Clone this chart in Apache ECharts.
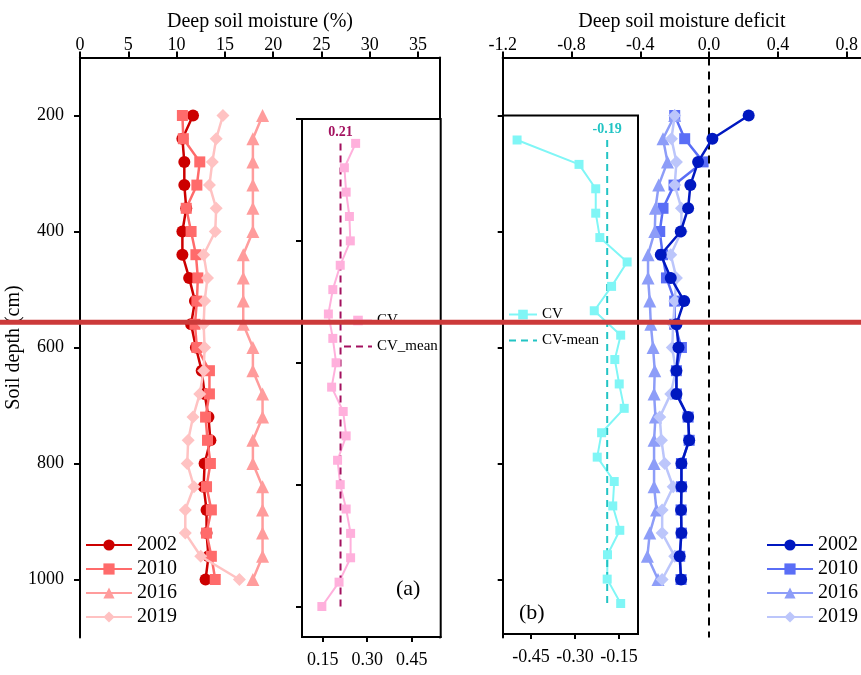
<!DOCTYPE html>
<html><head><meta charset="utf-8">
<script src="https://cdn.jsdelivr.net/npm/echarts@6/dist/echarts.min.js"></script>
<style>html,body{margin:0;padding:0;background:#fff}#c{width:861px;height:675px}</style>
</head><body><div id="c"></div>
<script>
// ---------- data ----------
const depths = [200,240,280,320,360,400,440,480,520,560,600,640,680,720,760,800,840,880,920,960,1000];
const cvDepths = [240,280,320,360,400,440,480,520,560,600,640,680,720,760,800,840,880,920,960,1000];
const depthTicks = [200,400,600,800,1000];
const moistTicks = [0,5,10,15,20,25,30,35];
const deficitTicks = [-1.2,-0.8,-0.4,0,0.4,0.8];
const cvTicksA = [0.15,0.30,0.45];
const cvTicksB = [-0.45,-0.30,-0.15];
const years = ['2002','2010','2016','2019'];

const moist2002 = [11.7,10.6,10.8,10.8,11.0,10.6,10.6,11.3,11.9,11.5,12.0,12.6,12.9,13.3,13.5,12.9,12.8,13.1,13.1,13.3,13.0];
const moist2010 = [10.6,10.7,12.4,12.1,11.0,11.5,12.0,12.2,12.1,11.9,12.1,13.4,13.4,13.0,13.2,13.5,13.1,13.6,13.1,13.6,14.0];
const moist2016 = [18.9,17.9,17.9,17.9,17.9,17.9,16.9,16.9,16.9,16.9,17.9,17.9,18.9,18.9,17.9,17.9,18.9,18.9,18.9,18.9,17.9];
const moist2019 = [14.8,14.1,13.7,13.4,14.1,14.0,12.8,13.2,12.9,12.8,12.9,12.8,12.4,11.7,11.2,11.1,11.8,10.9,10.9,12.5,16.5];

const def2002 = [0.230,0.019,-0.064,-0.109,-0.122,-0.165,-0.281,-0.223,-0.145,-0.190,-0.178,-0.190,-0.190,-0.122,-0.116,-0.161,-0.161,-0.163,-0.161,-0.171,-0.163];
const def2010 = [-0.200,-0.142,-0.035,-0.204,-0.268,-0.287,-0.270,-0.248,-0.200,-0.200,-0.161,-0.190,-0.190,-0.122,-0.116,-0.161,-0.161,-0.163,-0.161,-0.171,-0.163];
const def2016 = [-0.200,-0.268,-0.242,-0.293,-0.312,-0.316,-0.355,-0.355,-0.345,-0.339,-0.326,-0.316,-0.320,-0.312,-0.320,-0.320,-0.320,-0.306,-0.345,-0.359,-0.297];
const def2019 = [-0.200,-0.219,-0.190,-0.200,-0.161,-0.161,-0.223,-0.190,-0.200,-0.209,-0.214,-0.194,-0.223,-0.287,-0.277,-0.258,-0.209,-0.273,-0.273,-0.200,-0.273];

const cvA = [0.261,0.223,0.229,0.240,0.243,0.209,0.184,0.169,0.184,0.195,0.180,0.219,0.229,0.200,0.209,0.229,0.244,0.244,0.205,0.147];
const cvB = [-0.497,-0.286,-0.229,-0.229,-0.215,-0.122,-0.175,-0.234,-0.144,-0.164,-0.149,-0.132,-0.209,-0.224,-0.166,-0.171,-0.147,-0.189,-0.190,-0.144];
const cvMeanA = 0.21;
const cvMeanB = -0.19;
const redLineDepth = 556.5;

// ---------- styling ----------
const FF = '"Liberation Serif","Times New Roman",serif';
const redCols = ['#cc0000','#ff6b6b','#ff9c9c','#ffc2c2'];
const blueCols = ['#0018c0','#5a6ef6','#8d9df8','#bcc6fb'];
const syms = ['circle','rect','triangle','diamond'];
const symSizes = [12,11,13,13];

function pairs(vals, ds){ return vals.map((v,i)=>[v, ds[i]]); }
function yearSeries(name, vals, color, k, xi, yi, z){
  return {name, type:'line', xAxisIndex:xi, yAxisIndex:yi, data:pairs(vals, depths),
    symbol:syms[k], symbolSize:symSizes[k], z:z,
    lineStyle:{color, width:2.5}, itemStyle:{color}, emphasis:{disabled:true}};
}
function meanSeries(name, val, color, xi, yi){
  return {name, type:'line', xAxisIndex:xi, yAxisIndex:yi, z:6,
    data:[[val, cvDepths[0]],[val, cvDepths[cvDepths.length-1]]],
    symbol:'circle', symbolSize:0, showSymbol:false, itemStyle:{color, opacity:0},
    lineStyle:{color, width:2, type:[7,5]}, emphasis:{disabled:true},
    markPoint:{symbol:'circle', symbolSize:0, data:[{coord:[val, cvDepths[0]]}],
      label:{show:true, position:'top', distance:4, formatter:val.toFixed(2), fontFamily:FF, fontSize:14, fontWeight:'bold', color}}};
}
const axLine = {show:true, onZero:false, lineStyle:{color:'#000', width:2}};
const tickStyle = {color:'#000', width:2};
const lbl = {fontFamily:FF, fontSize:18, color:'#000'};

const chart = echarts.init(document.getElementById('c'), null, {renderer:'canvas'});
const strip = n => n.replace(' (b)','');

const option = {
  animation:false,
  backgroundColor:'#fff',
  grid:[
    {left:80, top:57.5, width:360, height:580},
    {left:302, top:119, width:138.7, height:518, show:true, borderColor:'#000', borderWidth:2, backgroundColor:'#fff', z:3},
    {left:502.7, top:57.5, width:358.3, height:580},
    {left:503, top:115.6, width:135, height:518.4, show:true, borderColor:'#000', borderWidth:2, backgroundColor:'#fff', z:3}
  ],
  xAxis:[
    {gridIndex:0, type:'value', position:'top', min:0, max:37.27,
      name:'Deep soil moisture (%)', nameLocation:'middle', nameGap:26,
      nameTextStyle:{fontFamily:FF, fontSize:20, color:'#000'},
      axisLine:axLine, axisTick:{show:true, inside:false, length:6, lineStyle:tickStyle, customValues:moistTicks},
      axisLabel:Object.assign({margin:3, customValues:moistTicks}, lbl), splitLine:{show:false}},
    {gridIndex:1, type:'value', position:'bottom', min:0.08, max:0.548,
      axisLine:axLine, axisTick:{show:true, inside:false, length:5, lineStyle:tickStyle, customValues:cvTicksA},
      axisLabel:Object.assign({margin:14, customValues:cvTicksA, formatter:v=>v.toFixed(2)}, lbl), splitLine:{show:false}},
    {gridIndex:2, type:'value', position:'top', min:-1.2, max:0.883,
      name:'Deep soil moisture deficit', nameLocation:'middle', nameGap:26,
      nameTextStyle:{fontFamily:FF, fontSize:20, color:'#000'},
      axisLine:axLine, axisTick:{show:true, inside:false, length:6, lineStyle:tickStyle, customValues:deficitTicks},
      axisLabel:Object.assign({margin:3, customValues:deficitTicks, formatter:v=>v.toFixed(1)}, lbl), splitLine:{show:false}},
    {gridIndex:3, type:'value', position:'bottom', min:-0.545, max:-0.085,
      axisLine:axLine, axisTick:{show:true, inside:false, length:5, lineStyle:tickStyle, customValues:cvTicksB},
      axisLabel:Object.assign({margin:14, customValues:cvTicksB, formatter:v=>v.toFixed(2)}, lbl), splitLine:{show:false}}
  ],
  yAxis:[
    {gridIndex:0, type:'value', inverse:true, min:100, max:1100, position:'left',
      name:'Soil depth (cm)', nameLocation:'middle', nameGap:49,
      nameTextStyle:{fontFamily:FF, fontSize:20, color:'#000'},
      axisLine:axLine, axisTick:{show:true, inside:false, length:6, lineStyle:tickStyle, customValues:depthTicks},
      axisLabel:Object.assign({margin:16, customValues:depthTicks, formatter:v=>String(v)}, lbl), splitLine:{show:false}},
    {gridIndex:0, type:'value', inverse:true, min:100, max:1100, position:'right',
      axisLine:axLine, axisTick:{show:false}, axisLabel:{show:false}, splitLine:{show:false}},
    {gridIndex:1, type:'value', inverse:true, min:200, max:1050, position:'left',
      axisLine:axLine, axisTick:{show:true, inside:false, length:6, lineStyle:tickStyle, customValues:depthTicks},
      axisLabel:{show:false}, splitLine:{show:false}},
    {gridIndex:2, type:'value', inverse:true, min:100, max:1100, position:'left',
      axisLine:axLine, axisTick:{show:true, inside:false, length:5, lineStyle:tickStyle, customValues:depthTicks},
      axisLabel:{show:false}, splitLine:{show:false}},
    {gridIndex:3, type:'value', inverse:true, min:200, max:1050, position:'left',
      axisLine:axLine, axisTick:{show:false}, axisLabel:{show:false}, splitLine:{show:false}}
  ],
  legend:[
    {left:80, top:530, padding:5, orient:'vertical', itemWidth:46, itemHeight:14, itemGap:4, selectedMode:false,
      textStyle:{fontFamily:FF, fontSize:20, color:'#000'}, data:years},
    {left:761, top:530, padding:5, orient:'vertical', itemWidth:46, itemHeight:14, itemGap:4, selectedMode:false,
      formatter:strip, textStyle:{fontFamily:FF, fontSize:20, color:'#000'}, data:years.map(y=>y+' (b)')},
    {left:338, top:308, orient:'vertical', itemWidth:28, itemHeight:12, itemGap:11, selectedMode:false,
      textStyle:{fontFamily:FF, fontSize:15, color:'#000'}, data:['CV','CV_mean']},
    {left:503, top:302, orient:'vertical', itemWidth:28, itemHeight:12, itemGap:11, selectedMode:false,
      formatter:strip, textStyle:{fontFamily:FF, fontSize:15, color:'#000'}, data:['CV (b)','CV-mean (b)']}
  ],
  series:[
    yearSeries('2002', moist2002, redCols[0], 0, 0, 0, 2),
    yearSeries('2010', moist2010, redCols[1], 1, 0, 0, 3),
    yearSeries('2016', moist2016, redCols[2], 2, 0, 0, 4),
    yearSeries('2019', moist2019, redCols[3], 3, 0, 0, 5),
    {name:'CV', type:'line', xAxisIndex:1, yAxisIndex:2, data:pairs(cvA, cvDepths), z:6,
      symbol:'rect', symbolSize:9, lineStyle:{color:'#ffb0dc', width:2}, itemStyle:{color:'#ffb0dc'}},
    meanSeries('CV_mean', cvMeanA, '#a3115f', 1, 2),
    {name:'0 line', type:'line', xAxisIndex:2, yAxisIndex:3, data:[], silent:true, z:1,
      markLine:{symbol:'none', silent:true, label:{show:false}, lineStyle:{color:'#000', width:2, type:[8,6]}, data:[{xAxis:0}]}},
    yearSeries('2010 (b)', def2010, blueCols[1], 1, 2, 3, 2),
    yearSeries('2016 (b)', def2016, blueCols[2], 2, 2, 3, 3),
    yearSeries('2019 (b)', def2019, blueCols[3], 3, 2, 3, 4),
    yearSeries('2002 (b)', def2002, blueCols[0], 0, 2, 3, 5),
    {name:'CV (b)', type:'line', xAxisIndex:3, yAxisIndex:4, data:pairs(cvB, cvDepths), z:6,
      symbol:'rect', symbolSize:9, lineStyle:{color:'#80f6f6', width:2}, itemStyle:{color:'#80f6f6'}},
    meanSeries('CV-mean (b)', cvMeanB, '#22c4c4', 3, 4)
  ]
};
chart.setOption(option);
const yRed = chart.convertToPixel({yAxisIndex:0}, redLineDepth);
chart.setOption({graphic:[
  {type:'text', left:396, top:578, z:20, style:{text:'(a)', font:'22px "Liberation Serif"', fill:'#000'}},
  {type:'text', left:519, top:602, z:20, style:{text:'(b)', font:'22px "Liberation Serif"', fill:'#000'}},
  {type:'line', z:100, shape:{x1:0, y1:yRed, x2:861, y2:yRed}, style:{stroke:'#cc3a3a', lineWidth:5}}
]});
</script></body></html>
